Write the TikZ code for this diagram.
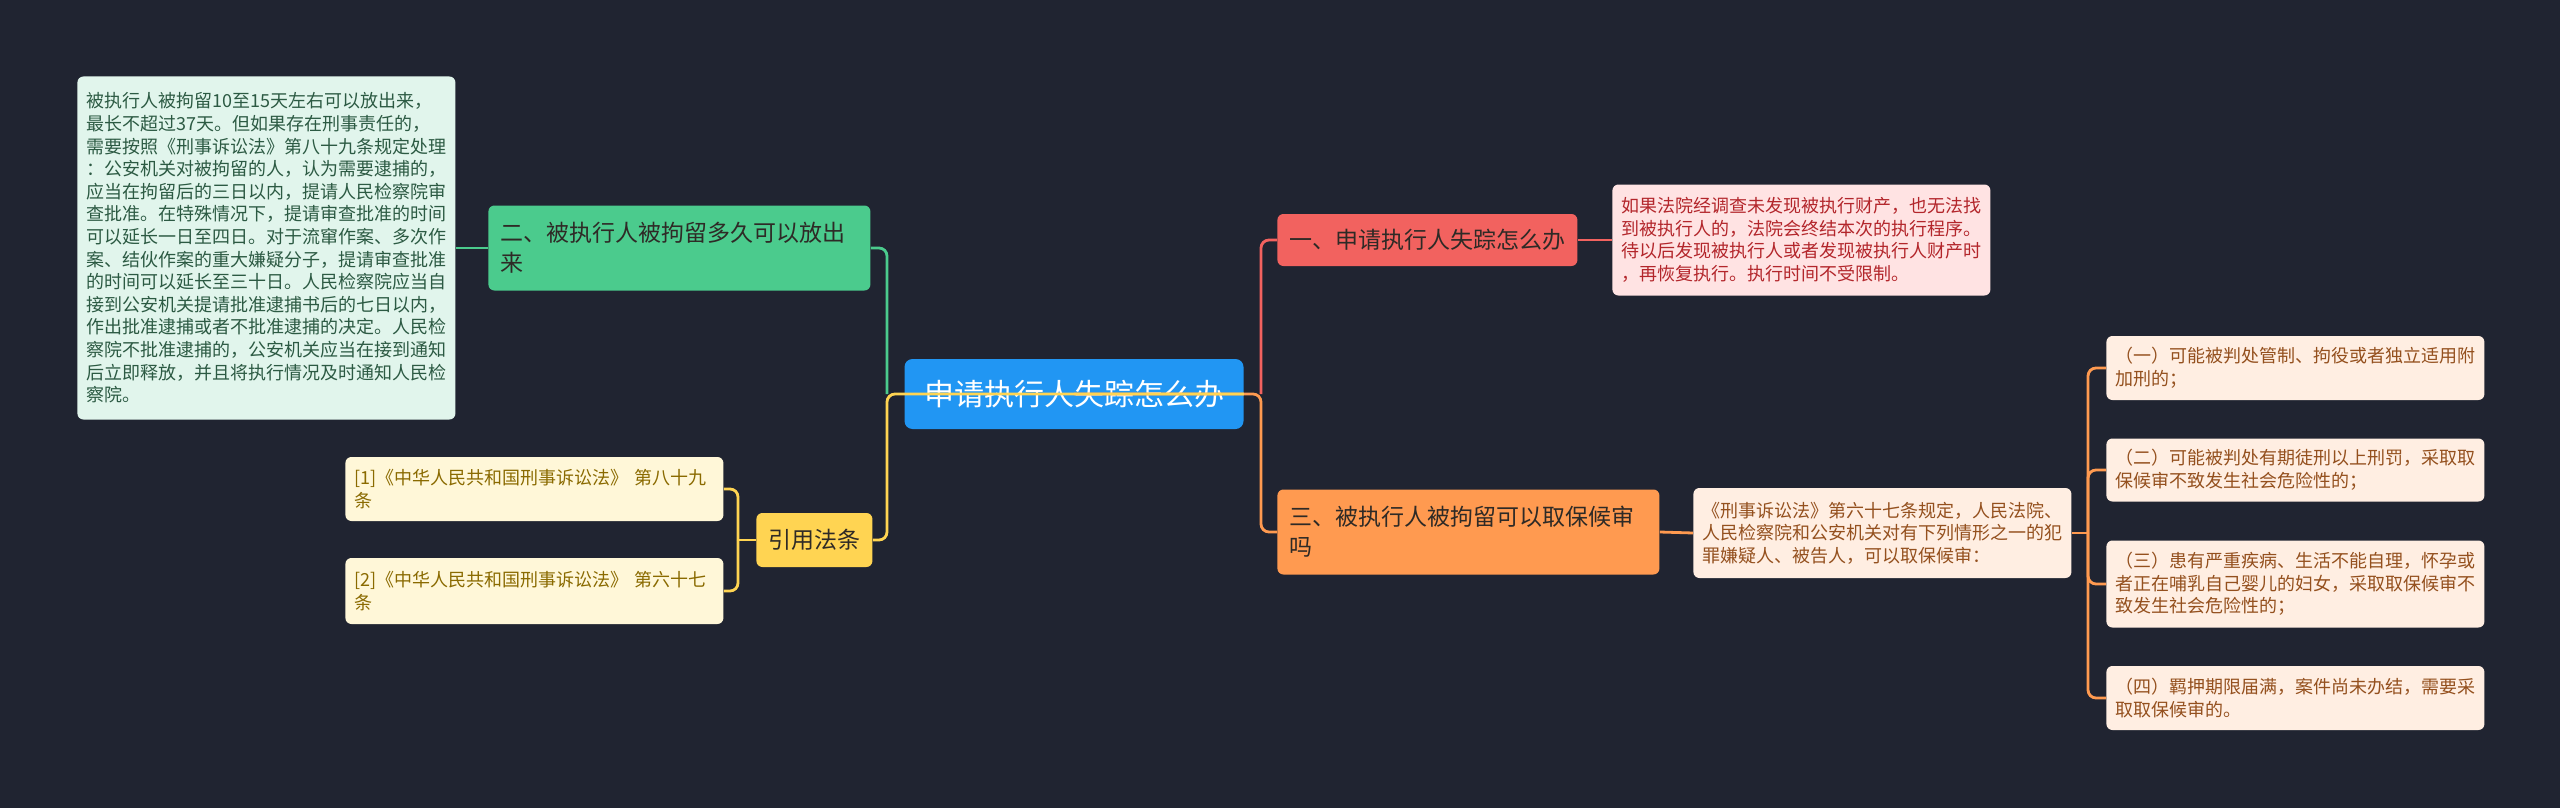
\documentclass[tikz,border=0pt]{standalone}
\usepackage{fontspec}
\setmainfont{Noto Sans CJK SC}
\usepackage{tikz}

\definecolor{bgcol}{HTML}{202431}
\definecolor{maincol}{HTML}{2196F3}
\definecolor{greencol}{HTML}{4BCB8D}
\definecolor{gnotefill}{HTML}{E1F5EC}
\definecolor{gnotetext}{HTML}{2C5A43}
\definecolor{redcol}{HTML}{F2625F}
\definecolor{rnotefill}{HTML}{FFE3E3}
\definecolor{rnotetext}{HTML}{B3262B}
\definecolor{orangecol}{HTML}{FF9A50}
\definecolor{onotefill}{HTML}{FFEEE2}
\definecolor{onotetext}{HTML}{94501E}
\definecolor{yellowcol}{HTML}{FFD452}
\definecolor{reffill}{HTML}{FFF7D8}
\definecolor{reftext}{HTML}{8A6A00}
\definecolor{darktext}{HTML}{2E2A26}

\begin{document}
\begin{tikzpicture}[x=0.5pt, y=-0.5pt,
    box/.style={rounded corners=3pt, align=left, anchor=west},
    topic/.style={box, inner xsep=6pt, text=darktext, font=\fontsize{11.5}{15}\selectfont},
    note/.style={box, text width=180pt, inner xsep=4.5pt, inner ysep=4pt, font=\fontsize{9}{11.3}\selectfont},
    link/.style={line width=1.4pt, rounded corners=4pt}]
    \fill[bgcol] (0,0) rectangle (2560,808);
    \useasboundingbox (0,0) rectangle (2560,808);
    % Nodes
    \node[box, anchor=center, fill=maincol, text=white, inner xsep=9.75pt, minimum height=35pt, rounded corners=4pt, font=\fontsize{15}{18}\selectfont] (main) at (1074,394) {申请执行人失踪怎么办};
    \node[topic, fill=greencol, text width=179pt, minimum height=42.5pt] (green) at (488,248) {二、被执行人被拘留多久可以放出\\来};
    \node[note, fill=gnotefill, text=gnotetext, minimum height=171.5pt] (gnote) at (77,248) {被执行人被拘留10至15天左右可以放出来，\\最长不超过37天。但如果存在刑事责任的，\\需要按照《刑事诉讼法》第八十九条规定处理\\：公安机关对被拘留的人，认为需要逮捕的，\\应当在拘留后的三日以内，提请人民检察院审\\查批准。在特殊情况下，提请审查批准的时间\\可以延长一日至四日。对于流窜作案、多次作\\案、结伙作案的重大嫌疑分子，提请审查批准\\的时间可以延长至三十日。人民检察院应当自\\接到公安机关提请批准逮捕书后的七日以内，\\作出批准逮捕或者不批准逮捕的决定。人民检\\察院不批准逮捕的，公安机关应当在接到通知\\后立即释放，并且将执行情况及时通知人民检\\察院。};
    \node[topic, fill=yellowcol, minimum height=27pt] (yellow) at (756,540) {引用法条};
    \node[note, fill=reffill, text=reftext, minimum height=32pt] (ref1) at (345,489) {[1]《中华人民共和国刑事诉讼法》~第八十九\\条};
    \node[note, fill=reffill, text=reftext, minimum height=33pt] (ref2) at (345,591) {[2]《中华人民共和国刑事诉讼法》~第六十七\\条};
    \node[topic, fill=redcol, minimum height=26pt] (red) at (1277,240) {一、申请执行人失踪怎么办};
    \node[note, fill=rnotefill, text=rnotetext, minimum height=55.5pt] (rnote) at (1612,240) {如果法院经调查未发现被执行财产，也无法找\\到被执行人的，法院会终结本次的执行程序。\\待以后发现被执行人或者发现被执行人财产时\\，再恢复执行。执行时间不受限制。};
    \node[topic, fill=orangecol, text width=179pt, minimum height=42.5pt] (orange) at (1277,532) {三、被执行人被拘留可以取保候审\\吗};
    \node[note, fill=onotefill, text=onotetext, minimum height=45pt] (onote) at (1693,533) {《刑事诉讼法》第六十七条规定，人民法院、\\人民检察院和公安机关对有下列情形之一的犯\\罪嫌疑人、被告人，可以取保候审：};
    \node[note, fill=onotefill, text=onotetext, minimum height=32pt] (item1) at (2106,368) {（一）可能被判处管制、拘役或者独立适用附\\加刑的；};
    \node[note, fill=onotefill, text=onotetext, minimum height=31.5pt] (item2) at (2106,470) {（二）可能被判处有期徒刑以上刑罚，采取取\\保候审不致发生社会危险性的；};
    \node[note, fill=onotefill, text=onotetext, minimum height=43.5pt] (item3) at (2106,584) {（三）患有严重疾病、生活不能自理，怀孕或\\者正在哺乳自己婴儿的妇女，采取取保候审不\\致发生社会危险性的；};
    \node[note, fill=onotefill, text=onotetext, minimum height=32pt] (item4) at (2106,698) {（四）羁押期限届满，案件尚未办结，需要采\\取取保候审的。};
    % Edges
    \coordinate (lfork) at (887,394);
    \coordinate (rfork) at (1261,394);
    \coordinate (yfork) at (738,540);
    \coordinate (ofork) at (2088,533);
    \draw[link, greencol] (gnote.east) -- (green.west);
    \draw[link, greencol] (lfork) |- (green.east);
    \draw[link, redcol] (rfork) |- (red.west);
    \draw[link, redcol] (red.east) -- (rnote.west);
    \draw[link, orangecol] (main.center) -- (rfork) |- (orange.west);
    \draw[link, orangecol] (orange.east) -- (onote.west);
    \draw[link, orangecol] (onote.east) -- (ofork);
    \foreach \i in {1,...,4}
        \draw[link, orangecol] (ofork) |- (item\i.west);
    \draw[link, yellowcol] (main.east) -- (lfork) |- (yellow.east);
    \draw[link, yellowcol] (yellow.west) -- (yfork);
    \foreach \i in {1,2}
        \draw[link, yellowcol] (yfork) |- (ref\i.east);
\end{tikzpicture}
\end{document}
